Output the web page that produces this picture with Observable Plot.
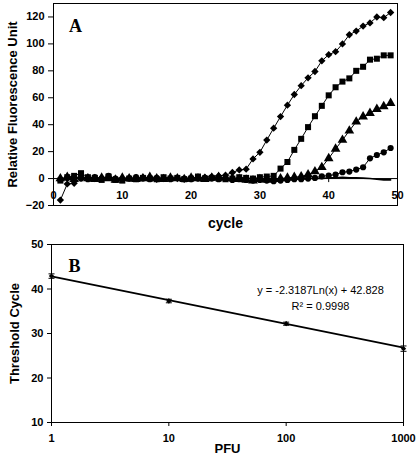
<!DOCTYPE html>
<html>
<head>
<meta charset="utf-8">
<script src="https://cdn.jsdelivr.net/npm/d3@7"></script>
<script src="https://cdn.jsdelivr.net/npm/@observablehq/plot@0.6"></script>
<style>
  html, body { margin: 0; padding: 0; background: #fff; }
  #wrap { position: relative; width: 417px; height: 458px; overflow: hidden; background: #fff; }
  #pa { position: absolute; left: 0; top: 0; }
  #pb { position: absolute; left: 0; top: 235px; }
</style>
</head>
<body>
<div id="wrap"><div id="pa"></div><div id="pb"></div></div>
<script>
// ---------- Panel A data ----------
const cycles = [1,2,3,4,5,6,7,8,9,10,11,12,13,14,15,16,17,18,19,20,21,22,23,24,25,26,27,28,29,30,31,32,33,34,35,36,37,38,39,40,41,42,43,44,45,46,47,48,49];
const diamondA = [-16,-4,-3.5,0.5,1,0,0.5,1,-0.5,0,0.5,0,1,0.5,-0.5,0,0.5,0,-0.5,0,0.5,1,1.5,2,2.5,4.5,6.4,7,14.6,19.5,28.6,37.4,46,54.5,62.4,69,74.8,79.5,87.4,92,94.2,100,106.8,109.5,113.2,115.6,120,119.5,123.3];
const squareA = [-1.5,1,2,4,1,0.5,-1,1.5,-1,-1.5,0,-0.5,0.5,0,-0.5,1,0,0.5,-0.5,0,1.5,0,0.5,0,-0.5,0,1,0.5,0,1,1.5,2,7.4,12.3,21.3,29.5,38.2,46.3,54,61.8,67.8,72,74.4,80,83,88.3,89,91.5,91.5];
const triangleA = [0,1,-0.5,1.5,0,-0.5,0.5,0,-1,0.5,0,-0.5,0,1,0,-0.5,0.5,0,-0.5,0.5,0,-0.5,0.5,1,0.5,0,-0.5,-1,-1.5,-0.5,-1,-0.5,0,0.5,1,1.5,3,5.2,8.4,15,22,28.6,35.5,42.2,46,48.6,51.6,53.6,56];
const circleA = [-1,0.5,1,0,-0.5,1,0,2,0,-0.5,0,1,0,-0.5,0.5,0,-0.5,0.5,0,-0.5,0,0.5,0,-0.5,0,-1,-0.5,-1,-1.5,-1,-1.5,-2,-1.5,-1,-0.5,-0.5,0,0.5,1.7,2.2,3,4.7,5.2,6.7,8.4,15,17.5,19.5,22.7];
const controlA = [-0.5,0,0.5,0,0,-0.5,0,0.5,0,0,-0.5,0,0,0.5,0,0,-0.5,0,0,0.5,0,0,-0.5,0,0,0,-0.5,0,0,-0.5,0,0,-0.5,-0.5,0,-0.5,0,0,0,0.5,0.5,1,0.5,0.5,0.3,0,-0.5,-1,-1];
const xTicksA = [0,10,20,30,40,50];
const yTicksA = [-20,0,20,40,60,80,100,120];
const labelA = "A";
const xTitleA = "cycle";
const yTitleA = "Relative Fluorescence Unit";

// ---------- Panel B data ----------
const pfu = [1, 10, 100, 1000];
const ct = [42.9, 37.3, 32.2, 26.6];
const ctErr = [0.5, 0.4, 0.35, 0.6];
const fitPfu = [1, 1000];
const fitCt = [42.828, 26.81];
const eqLines = ["y = -2.3187Ln(x) + 42.828", "R\u00B2 = 0.9998"];
const xTicksB = [1, 10, 100, 1000];
const yTicksB = [10, 20, 30, 40, 50];
const labelB = "B";
const xTitleB = "PFU";
const yTitleB = "Threshold Cycle";

// ---------- build ----------
const series = [
  {name: "control", vals: controlA, symbol: null},
  {name: "circle", vals: circleA, symbol: "circle"},
  {name: "triangle", vals: triangleA, symbol: "triangle"},
  {name: "square", vals: squareA, symbol: "square"},
  {name: "diamond", vals: diamondA, symbol: "diamond2"}
];
const rowsA = series.flatMap(s => cycles.map((c, i) => ({series: s.name, cycle: c, value: s.vals[i]})));
const dash = {draw(ctx, size) { const r = Math.sqrt(size / Math.PI); ctx.moveTo(-r, 0); ctx.lineTo(r, 0); }};

const font = "'Liberation Sans', Arial, sans-serif";
const symR = {circle: 3.1, triangle: 3.6, square: 3.4, diamond2: 3.3};

const marksA = [
  Plot.frame({stroke: "black"}),
  Plot.ruleY([0], {stroke: "black"}),
  Plot.ruleX(xTicksA, {x: d => d, y1: 0, y2: -3, stroke: "black"}),
  Plot.text(xTicksA, {x: d => d, y: 0, dy: 17, text: d => String(d), fontWeight: "bold", fontSize: 11}),
  Plot.axisY(yTicksA, {tickSize: 5, tickPadding: 4, label: null, fontWeight: "bold", fontSize: 11}),
];
for (const s of series) {
  const data = rowsA.filter(r => r.series === s.name);
  marksA.push(Plot.line(data, {x: "cycle", y: "value", stroke: "black", strokeWidth: s.symbol ? 1 : 1.6}));
  if (s.symbol) {
    marksA.push(Plot.dot(data, {x: "cycle", y: "value", symbol: () => s.symbol, fill: "black", stroke: "none", r: symR[s.symbol]}));
  }
}
marksA.push(
  Plot.text([yTitleA], {frameAnchor: "left", dx: -41, rotate: -90, text: d => d, fontWeight: "bold", fontSize: 13, textAnchor: "middle"}),
  Plot.text([xTitleA], {frameAnchor: "bottom", dy: 22, text: d => d, fontWeight: "bold", fontSize: 14}),
  Plot.text([labelA], {frameAnchor: "top-left", dx: 22, dy: 23, text: d => d, fontFamily: "'Liberation Serif', 'Times New Roman', serif", fontWeight: "bold", fontSize: 18, textAnchor: "middle", lineAnchor: "middle"})
);

const plotA = Plot.plot({
  width: 417, height: 235,
  marginLeft: 53, marginRight: 20, marginTop: 3, marginBottom: 30,
  x: {domain: [0, 50], axis: null},
  y: {domain: [-20, 130]},
  symbol: {type: "identity"},
  style: {fontFamily: font, fontSize: "11px", color: "black", background: "white", overflow: "visible"},
  marks: marksA
});
document.getElementById("pa").appendChild(plotA);

const rowsB = pfu.map((p, i) => ({pfu: p, ct: ct[i], lo: ct[i] - ctErr[i], hi: ct[i] + ctErr[i]}));
const fitRows = fitPfu.map((p, i) => ({pfu: p, ct: fitCt[i]}));

const plotB = Plot.plot({
  width: 417, height: 223,
  marginLeft: 51, marginRight: 14, marginTop: 9, marginBottom: 36,
  x: {type: "log", domain: [1, 1000]},
  y: {domain: [10, 50]},
  style: {fontFamily: font, fontSize: "11px", color: "black", background: "white", overflow: "visible"},
  marks: [
    Plot.frame({stroke: "black"}),
    Plot.axisX(xTicksB, {tickSize: 4, tickPadding: 8, tickFormat: d => String(d), label: null, fontWeight: "bold", fontSize: 11}),
    Plot.axisY(yTicksB, {tickSize: 4, tickPadding: 4, label: null, fontWeight: "bold", fontSize: 11}),
    Plot.line(fitRows, {x: "pfu", y: "ct", stroke: "black", strokeWidth: 1.8}),
    Plot.ruleX(rowsB, {x: "pfu", y1: "lo", y2: "hi", stroke: "black", strokeWidth: 1}),
    Plot.dot(rowsB, {x: "pfu", y: "lo", symbol: dash, stroke: "black", r: 3, strokeWidth: 1}),
    Plot.dot(rowsB, {x: "pfu", y: "hi", symbol: dash, stroke: "black", r: 3, strokeWidth: 1}),
    Plot.dot(rowsB, {x: "pfu", y: "ct", symbol: "diamond2", fill: "black", stroke: "none", r: 2.4}),
    Plot.text([eqLines[0]], {frameAnchor: "top-left", dx: 269, dy: 46, text: d => d, fontSize: 11, textAnchor: "middle", lineAnchor: "middle"}),
    Plot.text([eqLines[1]], {frameAnchor: "top-left", dx: 269, dy: 62, text: d => d, fontSize: 11, textAnchor: "middle", lineAnchor: "middle"}),
    Plot.text([yTitleB], {frameAnchor: "left", dx: -37, rotate: -90, text: d => d, fontWeight: "bold", fontSize: 13, textAnchor: "middle"}),
    Plot.text([xTitleB], {frameAnchor: "bottom", dy: 30, text: d => d, fontWeight: "bold", fontSize: 13}),
    Plot.text([labelB], {frameAnchor: "top-left", dx: 23, dy: 22, text: d => d, fontFamily: "'Liberation Serif', 'Times New Roman', serif", fontWeight: "bold", fontSize: 18, textAnchor: "middle", lineAnchor: "middle"})
  ]
});
document.getElementById("pb").appendChild(plotB);
</script>
</body>
</html>
